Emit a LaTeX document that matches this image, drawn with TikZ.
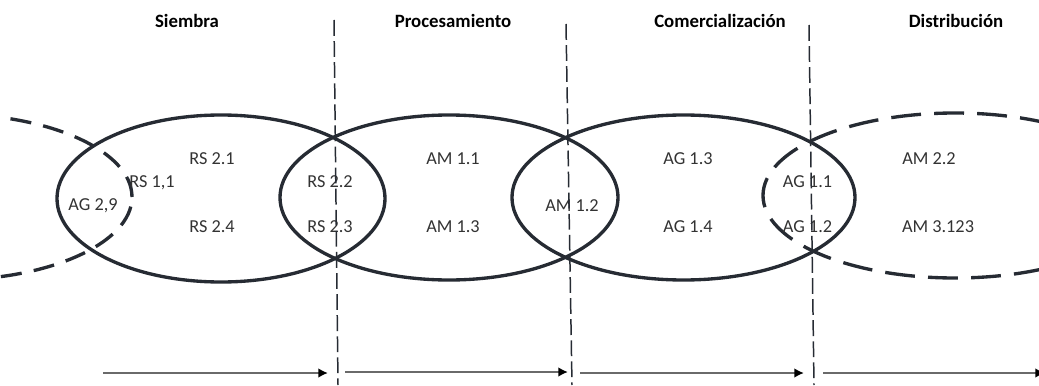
\documentclass[tikz,border=0pt]{standalone}
\usepackage{fontspec}
\setmainfont{Carlito}
\usepackage{xcolor}
\usepackage{tikz}
\usetikzlibrary{arrows.meta}
\definecolor{ovalink}{HTML}{262B33}
\definecolor{flowgray}{HTML}{6A6A6A}

\begin{document}
\begin{tikzpicture}[line join=round,
    oval/.style={draw=ovalink,line width=1.9pt},
    sepline/.style={draw=ovalink,line width=0.85pt,dash pattern=on 9pt off 3pt},
    flow/.style={draw=flowgray,line width=1.1pt,-{Latex[length=5.5pt,width=5.5pt,color=black]}},
    stagelab/.style={font=\fontsize{10.7}{12.8}\selectfont\bfseries,text=black,inner sep=0pt,text height=0.64em,text depth=0pt},
    actlab/.style={font=\fontsize{10.4}{12.5}\selectfont,text=black!80,inner sep=0pt,text height=0.64em,text depth=0pt}]
  \useasboundingbox (0,0) rectangle (20.78,7.70);
  \clip (0,0) rectangle (20.78,7.70);
  % centres of the ovals
  \coordinate (o0) at (-1.02,3.76);
  \coordinate (o1) at (4.42,3.73);
  \coordinate (o2) at (8.98,3.75);
  \coordinate (o3) at (13.67,3.75);
  \coordinate (o4) at (19.10,3.79);
  % stage borders (upper and lower ends)
  \coordinate (top1) at (6.68,7.30);  \coordinate (bot1) at (6.76,0);
  \coordinate (top2) at (11.32,7.22); \coordinate (bot2) at (11.44,0);
  \coordinate (top3) at (16.18,7.20); \coordinate (bot3) at (16.28,0);
  % ends of the flow arrows
  \coordinate (f1s) at (2.06,0.24);  \coordinate (f1e) at (6.56,0.24);
  \coordinate (f2s) at (6.90,0.26);  \coordinate (f2e) at (11.36,0.26);
  \coordinate (f3s) at (11.60,0.24); \coordinate (f3e) at (16.08,0.24);
  \coordinate (f4s) at (16.46,0.24); \coordinate (f4e) at (20.90,0.24);
  % ovals (outer two dashed, cut by the border)
  \draw[oval,dash pattern=on 12pt off 7pt] (o0) ellipse [x radius=3.66,y radius=1.66];
  \draw[oval] (o1) ellipse [x radius=3.28,y radius=1.67];
  \draw[oval] (o2) ellipse [x radius=3.38,y radius=1.65];
  \draw[oval] (o3) ellipse [x radius=3.43,y radius=1.65];
  \draw[oval,dash pattern=on 17pt off 7.5pt] (o4) ellipse [x radius=3.84,y radius=1.65];
  % stage names
  \foreach \n/\x/\t in {siembra/3.74/Siembra, proc/9.06/Procesamiento,
        comer/14.40/Comercialización, distr/19.12/Distribución}{\node[stagelab] (\n) at (\x,7.26) {\t};}
  % actor codes inside the ovals
  \foreach \n/\x/\y/\t in {ag29/1.86/3.60/{AG 2,9}, rs11/3.04/4.06/{RS 1,1},
        rs21/4.24/4.52/{RS 2.1}, rs24/4.24/3.16/{RS 2.4},
        rs22/6.60/4.06/{RS 2.2}, rs23/6.60/3.16/{RS 2.3},
        am11/9.06/4.52/{AM 1.1}, am13/9.06/3.16/{AM 1.3}, am12/11.44/3.58/{AM 1.2},
        ag13/13.76/4.52/{AG 1.3}, ag14/13.76/3.16/{AG 1.4},
        ag11/16.15/4.06/{AG 1.1}, ag12/16.15/3.16/{AG 1.2},
        am22/18.58/4.52/{AM 2.2}, am3123/18.76/3.16/{AM 3.123}}{\node[actlab] (\n) at (\x,\y) {\t};}
  % borders between the stages
  \foreach \b in {1,2,3}{\draw[sepline] (top\b)--(bot\b);}
  % flow along the chain
  \foreach \f in {1,2,3,4}{\draw[flow] (f\f s)--(f\f e);}
\end{tikzpicture}
\end{document}
